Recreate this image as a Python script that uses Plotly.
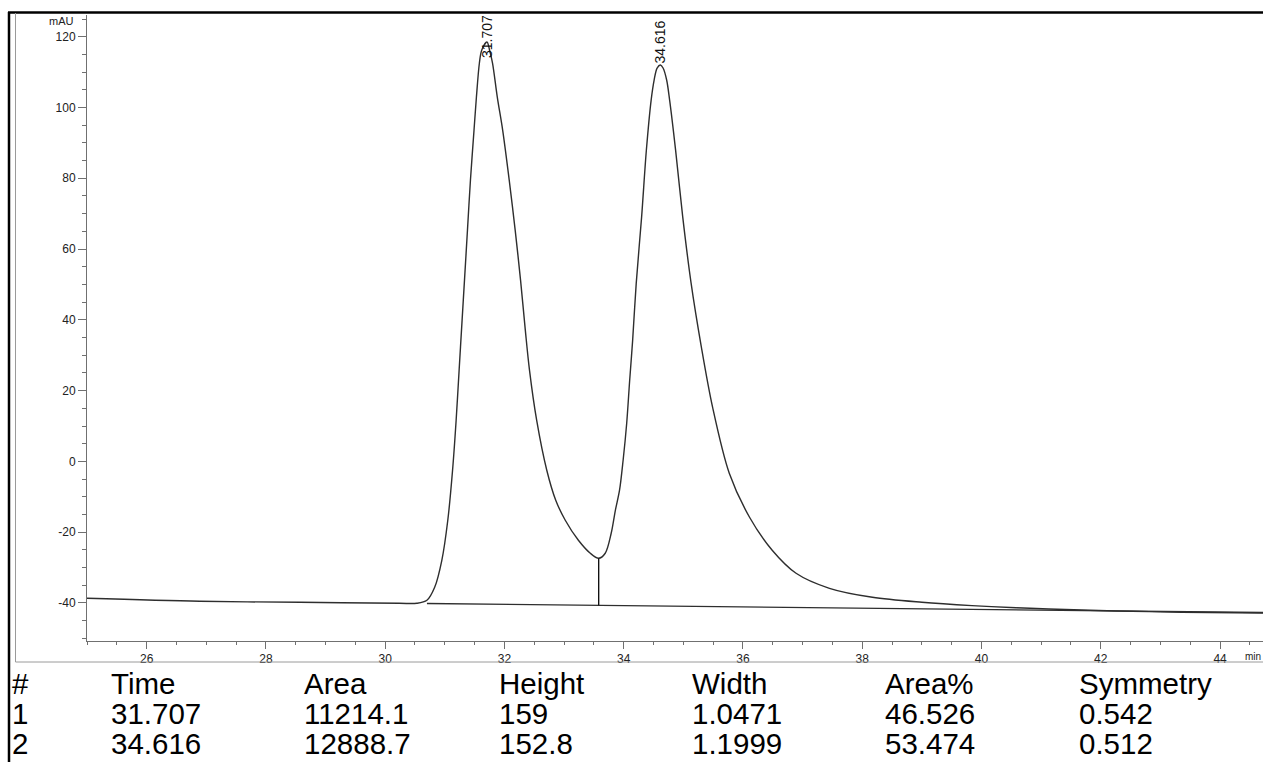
import plotly.graph_objects as go

# ---------------- data ----------------
sig_t = [25.00, 26.89, 28.57, 30.24, 30.53, 30.70, 30.83, 30.95, 31.05, 31.13,
         31.19, 31.24, 31.29, 31.33, 31.38, 31.43, 31.49, 31.53, 31.58, 31.62, 31.707,
         31.75, 31.80, 31.88, 31.97, 32.08, 32.18, 32.27, 32.35, 32.42, 32.54, 32.71, 32.86,
         33.02, 33.24, 33.44, 33.58,
         33.69, 33.79, 33.86, 33.93, 33.99, 34.05, 34.10, 34.15, 34.21, 34.30, 34.38, 34.46,
         34.51, 34.56, 34.616, 34.66, 34.72, 34.77, 34.87, 34.99, 35.13, 35.30, 35.49, 35.77,
         36.11, 36.49, 36.89, 37.45, 38.17, 39.00, 39.84, 40.58, 41.13, 41.68, 42.25, 42.81,
         43.36, 44.72]
sig_v = [-38.67, -39.52, -39.80, -40.08, -40.08, -39.24, -35.56, -27.93, -16.62, -2.49,
         11.65, 25.78, 39.92, 51.22, 65.36, 79.49, 93.62, 102.95, 112.56, 116.24, 118.5,
         116.24, 112.56, 102.95, 93.62, 79.49, 65.36, 51.22, 37.08, 25.78, 11.65, -2.49, -10.96,
         -16.62, -22.27, -25.95, -27.37,
         -25.95, -20.30, -13.80, -8.14, 0.34, 10.80, 22.95, 34.26, 50.37, 69.03, 87.97, 102.10,
         107.76, 111.15, 112.0, 111.15, 107.76, 102.10, 87.97, 69.03, 50.37, 32.50, 15.32, -3.34,
         -15.77, -25.10, -31.60, -35.85, -38.39, -39.80, -40.75, -41.35, -41.70, -42.00, -42.25, -42.45,
         -42.63, -42.85]

base_t = [30.70, 44.72]
base_v = [-40.14, -42.70]

drop_t = [33.58, 33.58]
drop_v = [-27.37, -40.67]

peak_times = [31.707, 34.616]
peak_tops = [118.5, 112.0]

y_tick_vals = [-40, -20, 0, 20, 40, 60, 80, 100, 120]
y_tick_text = ["-40", "-20", "0", "20", "40", "60", "80", "100", "120"]
x_tick_vals = [26, 28, 30, 32, 34, 36, 38, 40, 42, 44]

col_headers = ["#", "Time", "Area", "Height", "Width", "Area%", "Symmetry"]
peak_no = [1, 2]
areas = [11214.1, 12888.7]
heights = [159, 152.8]
widths = [1.0471, 1.1999]
area_pct = [46.526, 53.474]
symmetry = [0.542, 0.512]

# ---------------- figure ----------------
W, H = 1263, 762
L, R, T, B = 87, 0, 15, 121
PW = W - L - R
PH = H - T - B

def px2paper_x(px):
    return (px - L) / PW

def px2paper_y(py):
    return (H - B - py) / PH

line_col = "#2e2e2e"
fig = go.Figure()
fig.add_trace(go.Scatter(x=sig_t, y=sig_v, mode="lines",
                         line=dict(color=line_col, width=1.4, shape="spline", smoothing=0.9),
                         hoverinfo="skip", showlegend=False))
fig.add_trace(go.Scatter(x=base_t, y=base_v, mode="lines",
                         line=dict(color=line_col, width=1.4), hoverinfo="skip", showlegend=False))
fig.add_trace(go.Scatter(x=drop_t, y=drop_v, mode="lines",
                         line=dict(color="#111111", width=1.4), hoverinfo="skip", showlegend=False))

ann = []
# peak labels (rotated)
for t, v, ys in zip(peak_times, peak_tops, [6, 23]):
    ann.append(dict(x=t, y=v, xref="x", yref="y", text=f"{t:.3f}", textangle=-90,
                    showarrow=False, xanchor="center", yanchor="middle", yshift=ys,
                    font=dict(family="Liberation Sans", size=14, color="#111111")))

# mAU unit label
ann.append(dict(x=px2paper_x(76), y=px2paper_y(21), xref="paper", yref="paper", text="mAU",
                showarrow=False, xanchor="right", yanchor="middle",
                font=dict(family="Liberation Sans", size=11, color="#222222")))
# axis unit label at right edge
ann.append(dict(x=px2paper_x(1263), y=px2paper_y(657), xref="paper", yref="paper", text="min",
                showarrow=False, xanchor="right", yanchor="middle",
                font=dict(family="Liberation Sans", size=10, color="#222222")))

# results table
col_x = [10, 109, 302, 497, 690, 883, 1077]
row_y = [683, 713, 743]
rows = [col_headers]
for i in range(len(peak_no)):
    rows.append([str(peak_no[i]), f"{peak_times[i]}", f"{areas[i]}", f"{heights[i]}",
                 f"{widths[i]}", f"{area_pct[i]}", f"{symmetry[i]}"])
for ry, row in zip(row_y, rows):
    for cx, txt in zip(col_x, row):
        ann.append(dict(x=px2paper_x(cx), y=px2paper_y(ry), xref="paper", yref="paper",
                        text=txt, showarrow=False, xanchor="left", yanchor="middle",
                        font=dict(family="Liberation Sans", size=29.5, color="#000000")))

shapes = [
    # outer black frame (top and left)
    dict(type="line", xref="paper", yref="paper", x0=px2paper_x(8), x1=px2paper_x(1263),
         y0=px2paper_y(12.5), y1=px2paper_y(12.5), line=dict(color="#000000", width=2.5)),
    dict(type="line", xref="paper", yref="paper", x0=px2paper_x(9), x1=px2paper_x(9),
         y0=px2paper_y(12), y1=px2paper_y(762), line=dict(color="#000000", width=2.5)),
    # inner grey frame
    dict(type="line", xref="paper", yref="paper", x0=px2paper_x(15.5), x1=px2paper_x(15.5),
         y0=px2paper_y(13), y1=px2paper_y(662), line=dict(color="#9a9a9a", width=1)),
    dict(type="line", xref="paper", yref="paper", x0=px2paper_x(15.5), x1=px2paper_x(1263),
         y0=px2paper_y(662), y1=px2paper_y(662), line=dict(color="#9a9a9a", width=1)),
]

axis_col = "#707070"
fig.update_layout(
    width=W, height=H,
    margin=dict(l=L, r=R, t=T, b=B, pad=0),
    paper_bgcolor="white", plot_bgcolor="white",
    showlegend=False,
    annotations=ann, shapes=shapes,
    xaxis=dict(range=[25, 44.72], tickmode="array", tickvals=x_tick_vals,
               showgrid=False, zeroline=False,
               showline=True, linecolor=axis_col, linewidth=1,
               ticks="outside", ticklen=7, tickcolor=axis_col, tickwidth=1,
               tickfont=dict(family="Liberation Sans", size=12, color="#222222"),
               minor=dict(tickmode="linear", dtick=0.5, tick0=25, ticks="outside",
                          ticklen=3, tickcolor=axis_col),
               fixedrange=True),
    yaxis=dict(range=[-50.74, 126.13], tickmode="array", tickvals=y_tick_vals,
               ticktext=y_tick_text, showgrid=False, zeroline=False,
               showline=True, linecolor=axis_col, linewidth=1,
               ticks="outside", ticklen=8, tickcolor=axis_col, tickwidth=1,
               tickfont=dict(family="Liberation Sans", size=12, color="#222222"),
               minor=dict(tickmode="linear", dtick=5, tick0=0, ticks="outside",
                          ticklen=4, tickcolor=axis_col),
               fixedrange=True),
)

fig.write_html("out.html", config={"displayModeBar": False})
